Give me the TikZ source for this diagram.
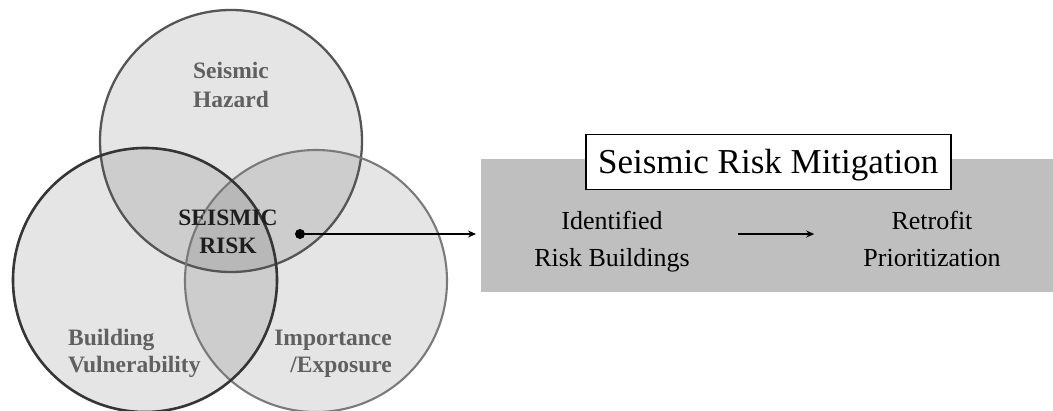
\documentclass[tikz,border=0pt]{standalone}
\usepackage{fontspec}
\setmainfont{Liberation Serif}
\usetikzlibrary{arrows.meta}
\definecolor{topline}{HTML}{555555}
\definecolor{leftline}{HTML}{353535}
\definecolor{rightline}{HTML}{7A7A7A}
\definecolor{lbltext}{HTML}{606060}
\definecolor{risktext}{HTML}{1E1E1E}
\definecolor{panelgray}{HTML}{BFBFBF}
\tikzset{
  venn/.style={fill=black, fill opacity=0.1},
  vlabel/.style={inner sep=0, text=lbltext, font=\bfseries\fontsize{23.5}{28}\selectfont},
  rlabel/.style={inner sep=0, text=risktext, font=\bfseries\fontsize{23.5}{28}\selectfont, align=center},
  steptext/.style={inner sep=0, align=center, font=\fontsize{26}{37}\selectfont},
  titlebox/.style={draw=black, line width=1.5pt, fill=white, inner sep=0,
    minimum width=365pt, minimum height=55pt, font=\fontsize{35}{40}\selectfont},
  conn/.style={line width=1.4pt, -{Stealth[length=8pt,width=7pt]}},
}
\begin{document}
\begin{tikzpicture}[x=1pt,y=-1pt]
\useasboundingbox (0,0) rectangle (1053,410);
\fill[white] (0,0) rectangle (1053,410);
% Venn fills
\fill[venn] (231,141) circle (131);
\fill[venn] (316,281) circle (131);
\fill[venn] (145,280) circle (132);
% Venn outlines
\draw[topline, line width=2.3pt] (231,141) circle (131);
\draw[rightline, line width=2.1pt] (316,281) circle (131);
\draw[leftline, line width=2.6pt] (145,280) circle (132);
% labels (anchor base = baseline of last line)
\node[vlabel, anchor=base, align=center, font=\bfseries\fontsize{23.5}{29}\selectfont] (hazard) at (231,107) {Seismic\\Hazard};
\node[rlabel, anchor=base] (risk) at (228,253) {SEISMIC\\RISK};
\node[vlabel, anchor=base west, align=left, font=\bfseries\fontsize{23.5}{27}\selectfont] (vuln) at (68,372) {Building\\Vulnerability};
\node[vlabel, anchor=base east, align=right, font=\bfseries\fontsize{23.5}{27}\selectfont] (expo) at (392,372) {Importance\\/Exposure};
% dot
\node[circle, fill=black, inner sep=0, minimum size=10pt] (dot) at (300,234) {};
% panel
\node[fill=panelgray, inner sep=0, minimum width=572pt, minimum height=133pt, anchor=north west] (panel) at (481,159) {};
\node[draw=black, line width=1.5pt, fill=white, minimum width=365pt, minimum height=55pt, anchor=north west, inner sep=0] (title) at (585,133.5) {};
\node[inner sep=0, anchor=base, font=\fontsize{35}{40}\selectfont] (titletext) at (title.center |- 0,173.5) {Seismic Risk Mitigation};
\node[steptext, anchor=base] (ident) at (612,266) {Identified\\Risk Buildings};
\node[steptext, anchor=base] (retro) at (932,266) {Retrofit\\Prioritization};
% connectors
\draw[conn, shorten >=5pt] (dot.center) -- (dot -| panel.west);
\draw[conn, shorten <=48pt, shorten >=49pt] (ident.east |- dot) -- (retro.west |- dot);
\end{tikzpicture}
\end{document}
